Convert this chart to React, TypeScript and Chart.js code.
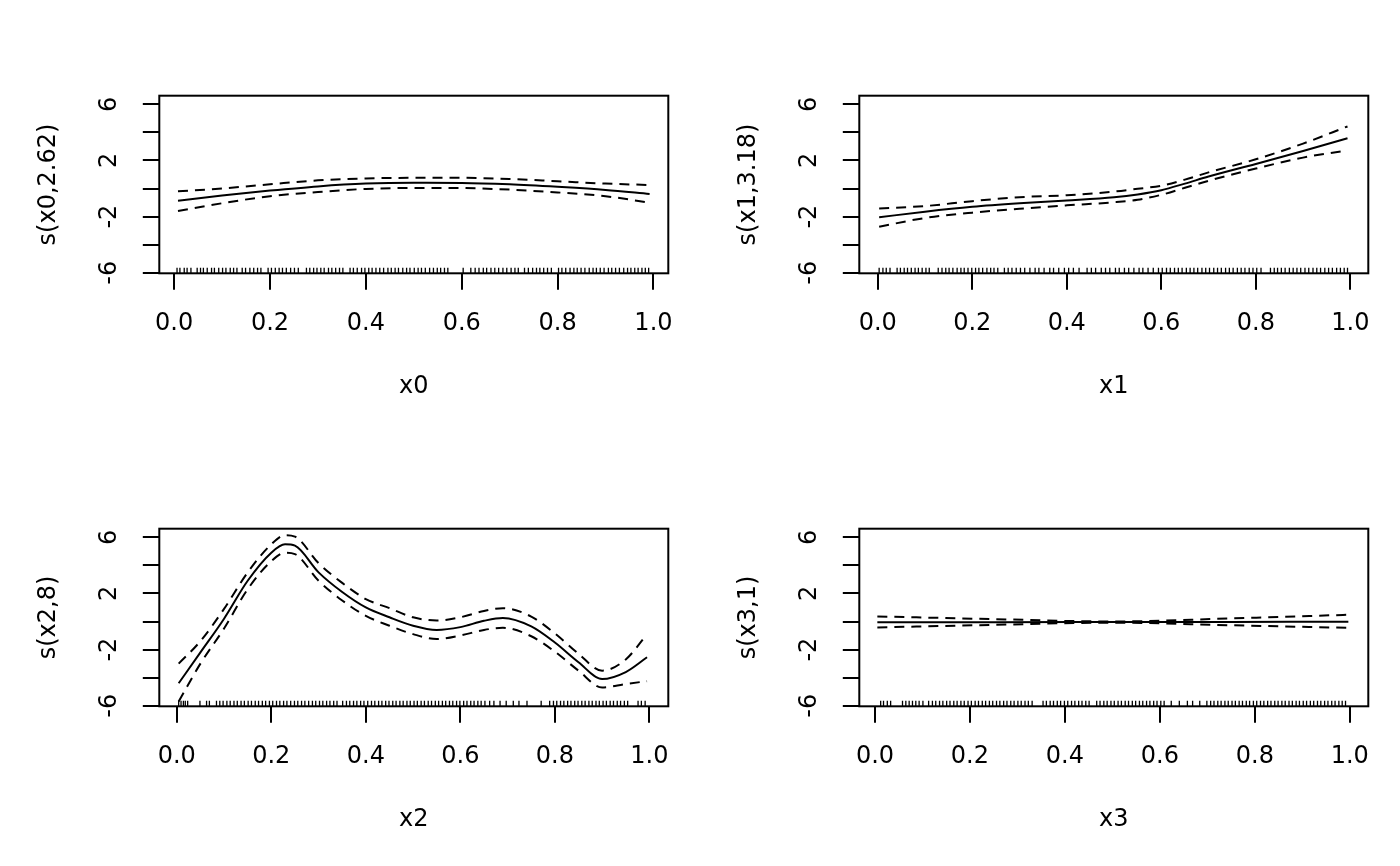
import { useEffect, useRef } from 'react'
import { Chart, registerables, Plugin } from 'chart.js'

Chart.register(...registerables)

// shared axis ticks
const xTicks = [0, 0.2, 0.4, 0.6, 0.8, 1.0]
const xTickLabels = ['0.0', '0.2', '0.4', '0.6', '0.8', '1.0']
const yTicks = [-6, -4, -2, 0, 2, 4, 6]
const yLabelTicks = [-6, -2, 2, 6]
const yTickLabels = ['-6', '-2', '2', '6']

// s(x0, 2.62)
const x0Grid = [0.008, 0.1, 0.2, 0.3, 0.4, 0.5, 0.6, 0.7, 0.8, 0.9, 0.992]
const fit0 = [-0.87, -0.5, -0.15, 0.15, 0.35, 0.41, 0.4, 0.3, 0.12, -0.1, -0.39]
const upper0 = [-0.2, 0.0, 0.3, 0.58, 0.72, 0.76, 0.76, 0.68, 0.52, 0.35, 0.25]
const lower0 = [-1.6, -1.05, -0.55, -0.25, -0.03, 0.04, 0.03, -0.08, -0.28, -0.55, -1.01]

// s(x1, 3.18)
const x1Grid = [0.003, 0.1, 0.2, 0.3, 0.4, 0.5, 0.55, 0.6, 0.65, 0.7, 0.8, 0.9, 0.994]
const fit1 = [-2.05, -1.65, -1.3, -1.05, -0.85, -0.62, -0.42, -0.12, 0.35, 0.85, 1.75, 2.67, 3.58]
const upper1 = [-1.42, -1.25, -0.9, -0.62, -0.48, -0.22, -0.02, 0.2, 0.63, 1.15, 2.08, 3.2, 4.42]
const lower1 = [-2.72, -2.1, -1.72, -1.45, -1.2, -0.98, -0.8, -0.45, 0.05, 0.55, 1.42, 2.2, 2.72]

// s(x2, 8)
const x2Grid = [0.004, 0.05, 0.1, 0.15, 0.2, 0.229, 0.25, 0.3, 0.35, 0.4, 0.45, 0.5, 0.55, 0.6, 0.65, 0.69, 0.75, 0.8, 0.85, 0.9, 0.95, 0.995]
const fit2 = [-4.4, -2.2, 0.2, 2.9, 4.9, 5.5, 5.4, 3.5, 2.1, 1.0, 0.3, -0.3, -0.6, -0.4, 0.05, 0.25, -0.35, -1.5, -2.9, -4.1, -3.6, -2.55]
const upper2 = [-3.0, -1.4, 0.9, 3.5, 5.5, 6.15, 6.05, 4.15, 2.75, 1.6, 0.95, 0.3, 0.07, 0.3, 0.75, 0.95, 0.35, -0.85, -2.3, -3.5, -2.7, -0.9]
const lower2 = [-5.7, -3.0, -0.5, 2.3, 4.3, 4.9, 4.8, 2.9, 1.5, 0.4, -0.3, -0.9, -1.25, -1.0, -0.6, -0.45, -1.05, -2.15, -3.5, -4.7, -4.45, -4.25]

// s(x3, 1)
const x3Grid = [0.005, 0.25, 0.5, 0.75, 0.997]
const fit3 = [-0.06, -0.05, -0.04, -0.03, -0.02]
const upper3 = [0.36, 0.17, 0.0, 0.22, 0.48]
const lower3 = [-0.42, -0.24, -0.08, -0.27, -0.45]

// rug positions of the covariates
const rug0 = [0.006, 0.012, 0.021, 0.027, 0.035, 0.048, 0.055, 0.061, 0.069, 0.078, 0.084, 0.093, 0.101, 0.108, 0.117, 0.124, 0.131, 0.142, 0.149, 0.158, 0.166, 0.174, 0.181, 0.196, 0.203, 0.211, 0.219, 0.226, 0.234, 0.243, 0.251, 0.259, 0.276, 0.283, 0.291, 0.298, 0.306, 0.313, 0.322, 0.329, 0.337, 0.345, 0.352, 0.367, 0.374, 0.382, 0.391, 0.398, 0.406, 0.413, 0.421, 0.429, 0.437, 0.446, 0.453, 0.461, 0.468, 0.477, 0.485, 0.492, 0.501, 0.509, 0.516, 0.524, 0.533, 0.541, 0.549, 0.556, 0.564, 0.571, 0.603, 0.619, 0.628, 0.636, 0.645, 0.652, 0.661, 0.669, 0.677, 0.686, 0.694, 0.703, 0.711, 0.718, 0.731, 0.739, 0.748, 0.756, 0.763, 0.771, 0.779, 0.787, 0.802, 0.809, 0.817, 0.826, 0.834, 0.841, 0.849, 0.857, 0.866, 0.874, 0.881, 0.889, 0.897, 0.906, 0.913, 0.921, 0.929, 0.938, 0.946, 0.953, 0.961, 0.968, 0.976, 0.983, 0.99]
const rug1 = [0.003, 0.011, 0.018, 0.026, 0.041, 0.048, 0.056, 0.063, 0.071, 0.079, 0.086, 0.094, 0.102, 0.109, 0.128, 0.136, 0.144, 0.151, 0.159, 0.168, 0.176, 0.183, 0.191, 0.199, 0.207, 0.214, 0.222, 0.231, 0.239, 0.246, 0.254, 0.268, 0.276, 0.284, 0.293, 0.302, 0.311, 0.322, 0.333, 0.341, 0.352, 0.364, 0.372, 0.383, 0.395, 0.404, 0.414, 0.426, 0.443, 0.452, 0.461, 0.473, 0.482, 0.491, 0.503, 0.511, 0.522, 0.531, 0.542, 0.553, 0.561, 0.572, 0.583, 0.594, 0.602, 0.611, 0.619, 0.628, 0.636, 0.644, 0.653, 0.661, 0.669, 0.677, 0.686, 0.694, 0.702, 0.711, 0.719, 0.727, 0.736, 0.744, 0.752, 0.761, 0.769, 0.777, 0.786, 0.794, 0.802, 0.811, 0.831, 0.839, 0.846, 0.854, 0.862, 0.871, 0.879, 0.887, 0.895, 0.904, 0.912, 0.921, 0.929, 0.937, 0.946, 0.954, 0.962, 0.971, 0.979, 0.987, 0.994]
const rug2 = [0.004, 0.009, 0.014, 0.018, 0.023, 0.049, 0.063, 0.069, 0.084, 0.091, 0.098, 0.106, 0.113, 0.121, 0.128, 0.136, 0.143, 0.151, 0.158, 0.166, 0.173, 0.181, 0.188, 0.196, 0.203, 0.211, 0.218, 0.226, 0.233, 0.241, 0.249, 0.256, 0.264, 0.271, 0.279, 0.287, 0.294, 0.302, 0.309, 0.317, 0.324, 0.332, 0.339, 0.351, 0.359, 0.366, 0.374, 0.381, 0.389, 0.396, 0.404, 0.412, 0.419, 0.427, 0.434, 0.442, 0.449, 0.457, 0.464, 0.472, 0.479, 0.487, 0.494, 0.502, 0.509, 0.517, 0.524, 0.532, 0.539, 0.547, 0.554, 0.562, 0.569, 0.577, 0.584, 0.592, 0.599, 0.607, 0.614, 0.622, 0.629, 0.637, 0.644, 0.652, 0.662, 0.671, 0.684, 0.697, 0.712, 0.724, 0.741, 0.771, 0.789, 0.797, 0.804, 0.812, 0.819, 0.827, 0.834, 0.842, 0.849, 0.857, 0.864, 0.872, 0.879, 0.887, 0.894, 0.902, 0.909, 0.917, 0.924, 0.932, 0.939, 0.947, 0.954, 0.976, 0.983, 0.991]
const rug3 = [0.012, 0.018, 0.026, 0.033, 0.058, 0.065, 0.072, 0.079, 0.086, 0.093, 0.101, 0.113, 0.121, 0.128, 0.136, 0.143, 0.151, 0.158, 0.166, 0.173, 0.181, 0.188, 0.196, 0.203, 0.211, 0.218, 0.226, 0.233, 0.241, 0.248, 0.256, 0.263, 0.271, 0.278, 0.286, 0.293, 0.301, 0.308, 0.316, 0.323, 0.331, 0.354, 0.361, 0.369, 0.376, 0.384, 0.391, 0.399, 0.406, 0.414, 0.421, 0.429, 0.436, 0.444, 0.451, 0.467, 0.474, 0.482, 0.489, 0.497, 0.504, 0.512, 0.519, 0.527, 0.534, 0.542, 0.549, 0.557, 0.564, 0.572, 0.579, 0.587, 0.594, 0.602, 0.609, 0.624, 0.641, 0.658, 0.669, 0.684, 0.699, 0.707, 0.714, 0.722, 0.729, 0.737, 0.744, 0.752, 0.759, 0.767, 0.774, 0.782, 0.789, 0.797, 0.804, 0.812, 0.819, 0.827, 0.834, 0.842, 0.849, 0.857, 0.864, 0.872, 0.879, 0.887, 0.894, 0.902, 0.909, 0.917, 0.924, 0.932, 0.939, 0.947, 0.954, 0.962, 0.969, 0.977, 0.984, 0.991]

const FONT = '24px "DejaVu Sans"'
const Y_MIN = -6.04
const Y_MAX = 6.61

interface PanelProps {
  grid: number[]
  fit: number[]
  upper: number[]
  lower: number[]
  rug: number[]
  xMin: number
  xMax: number
  xTitle: string
  yTitle: string
  left: number
  top: number
}

// R-style box, rug and labels drawn against the chart's own scales
const rPlot = (xTitle: string, yTitle: string, rug: number[]): Plugin<'line'> => ({
  id: 'rPlot',
  afterDatasetsDraw(chart) {
    const { ctx, chartArea: a, scales } = chart
    const xs = scales.x
    const ys = scales.y
    ctx.save()
    ctx.strokeStyle = '#000'
    ctx.lineWidth = 2
    ctx.strokeRect(a.left, a.top, a.right - a.left, a.bottom - a.top)

    ctx.lineWidth = 1.3
    ctx.beginPath()
    rug.forEach(v => {
      const px = xs.getPixelForValue(v)
      ctx.moveTo(px, a.bottom)
      ctx.lineTo(px, a.bottom - 5.5)
    })
    ctx.stroke()

    ctx.fillStyle = '#000'
    ctx.font = FONT
    ctx.textAlign = 'center'
    ctx.textBaseline = 'middle'
    xTicks.forEach((v, i) => ctx.fillText(xTickLabels[i], xs.getPixelForValue(v), a.bottom + 50))
    yLabelTicks.forEach((v, i) => {
      ctx.save()
      ctx.translate(a.left - 50, ys.getPixelForValue(v))
      ctx.rotate(-Math.PI / 2)
      ctx.fillText(yTickLabels[i], 0, 0)
      ctx.restore()
    })
    ctx.fillText(xTitle, (a.left + a.right) / 2, a.bottom + 113)
    ctx.translate(a.left - 111, (a.top + a.bottom) / 2)
    ctx.rotate(-Math.PI / 2)
    ctx.fillText(yTitle, 0, 0)
    ctx.restore()
  }
})

function SmoothPanel({ grid, fit, upper, lower, rug, xMin, xMax, xTitle, yTitle, left, top }: PanelProps) {
  const canvasRef = useRef<HTMLCanvasElement>(null)

  useEffect(() => {
    if (!canvasRef.current) return
    const pts = (ys: number[]) => grid.map((x, i) => ({ x, y: ys[i] }))
    const line = (ys: number[], dashed: boolean) => ({
      data: pts(ys),
      borderColor: '#000',
      borderWidth: 2,
      borderDash: dashed ? [10, 7] : [],
      pointRadius: 0,
      fill: false,
      cubicInterpolationMode: 'monotone'
    })
    const tickGrid = { drawOnChartArea: false, drawTicks: true, tickLength: 16.5, color: '#000', lineWidth: 2 }

    const config: any = {
      type: 'line',
      data: {
        datasets: [line(fit, false), line(upper, true), line(lower, true)]
      },
      options: {
        responsive: false,
        animation: false,
        events: [],
        layout: { padding: { top: 95.7, right: 31.7, bottom: 0, left: 0 } },
        plugins: { legend: { display: false }, tooltip: { enabled: false } },
        scales: {
          x: {
            type: 'linear',
            min: xMin,
            max: xMax,
            afterBuildTicks: (s: any) => { s.ticks = xTicks.map(value => ({ value })) },
            afterFit: (s: any) => { s.height = 159.7 },
            ticks: { display: false },
            grid: tickGrid,
            border: { display: false }
          },
          y: {
            type: 'linear',
            min: Y_MIN,
            max: Y_MAX,
            afterBuildTicks: (s: any) => { s.ticks = yTicks.map(value => ({ value })) },
            afterFit: (s: any) => { s.width = 159.3 },
            ticks: { display: false },
            grid: tickGrid,
            border: { display: false }
          }
        }
      },
      plugins: [rPlot(xTitle, yTitle, rug)]
    }

    const chart = new Chart(canvasRef.current, config)
    return () => chart.destroy()
  }, [grid, fit, upper, lower, rug, xMin, xMax, xTitle, yTitle])

  return (
    <canvas
      ref={canvasRef}
      width={700}
      height={433}
      style={{ position: 'absolute', left, top, width: 700, height: 433 }}
    />
  )
}

export default function App() {
  return (
    <div style={{ position: 'absolute', left: 0, top: 0, width: 1400, height: 866, background: '#fff' }}>
      <SmoothPanel grid={x0Grid} fit={fit0} upper={upper0} lower={lower0} rug={rug0}
        xMin={-0.031} xMax={1.031} xTitle="x0" yTitle="s(x0,2.62)" left={0} top={0} />
      <SmoothPanel grid={x1Grid} fit={fit1} upper={upper1} lower={lower1} rug={rug1}
        xMin={-0.039} xMax={1.038} xTitle="x1" yTitle="s(x1,3.18)" left={700} top={0} />
      <SmoothPanel grid={x2Grid} fit={fit2} upper={upper2} lower={lower2} rug={rug2}
        xMin={-0.037} xMax={1.04} xTitle="x2" yTitle="s(x2,8)" left={0} top={433} />
      <SmoothPanel grid={x3Grid} fit={fit3} upper={upper3} lower={lower3} rug={rug3}
        xMin={-0.033} xMax={1.039} xTitle="x3" yTitle="s(x3,1)" left={700} top={433} />
    </div>
  )
}
